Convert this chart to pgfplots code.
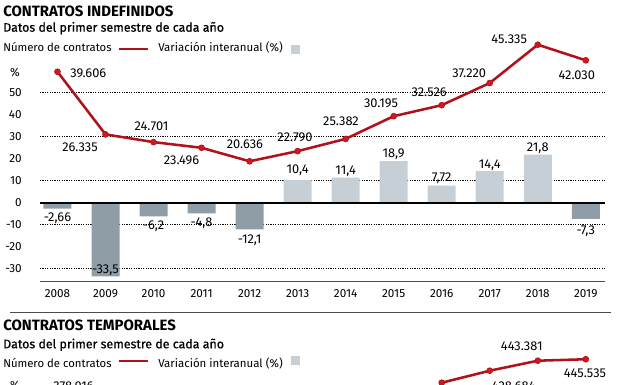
\documentclass[border=0pt]{standalone}
\usepackage{fontspec}
\setmainfont{Fira Sans}
\usepackage{pgfplots}
\usepackage{pgfplotstable}
\pgfplotsset{compat=1.18}
\definecolor{linered}{HTML}{B0121B}
\definecolor{markred}{HTML}{D3161F}
\definecolor{negbar}{HTML}{8F9DA7}
\definecolor{posbar}{HTML}{C7CFD6}
\newcommand\fs[1]{\fontsize{#1pt}{#1pt}\selectfont}

\pgfplotstableread{
x v
0 -2.66
1 -33.5
2 -6.2
3 -4.8
4 -12.1
11 -7.3
}\negdata
\pgfplotstableread{
x v
5 10.4
6 11.4
7 18.9
8 7.72
9 14.4
10 21.8
}\posdata
\pgfplotstableread{
x v
0 39606
1 26335
2 24701
3 23496
4 20636
5 22790
6 25382
7 30195
8 32526
9 37220
10 45335
11 42030
}\lineA
\pgfplotstableread{
x v
8 411000
9 428684
10 443381
11 445535
}\lineB

\begin{document}
\begin{tikzpicture}
\path[use as bounding box] (0,0) rectangle (468pt,-288.75pt);
\begin{scope}
\clip (0,0) rectangle (468pt,-288.75pt);

% ---------- bars axis (top chart)
\begin{axis}[
  at={(30pt,-210.75pt)}, anchor=south west,
  width=423.75pt, height=184.5pt, scale only axis,
  xmin=-0.364, xmax=11.40,
  ymin=-35.59, ymax=76.23,
  axis line style={draw=none},
  major tick length=0pt,
  clip=false,
  xtick={0,...,11},
  xticklabels={2008,2009,2010,2011,2012,2013,2014,2015,2016,2017,2018,2019},
  xticklabel style={font=\fs{8.8}, anchor=center, yshift=-9.75pt, inner sep=0pt},
  ytick={-30,-20,...,50},
  yticklabel={\pgfmathparse{int(\tick)}\pgfmathresult},
  yticklabel style={font=\fs{8.8}, anchor=east, inner sep=0pt, xshift=-13.5pt},
]
\draw[black, line width=0.5pt, dash pattern=on 0.9pt off 0.9pt] (axis cs:-0.364,50) -- (axis cs:11.4,50);
\draw[black, line width=0.5pt, dash pattern=on 0.9pt off 0.9pt] (axis cs:-0.364,30) -- (axis cs:11.4,30);
\draw[black, line width=0.5pt, dash pattern=on 0.9pt off 0.9pt] (axis cs:-0.364,10) -- (axis cs:11.4,10);
\draw[black, line width=0.5pt, dash pattern=on 0.9pt off 0.9pt] (axis cs:-0.364,-10) -- (axis cs:11.4,-10);
\draw[black, line width=0.5pt, dash pattern=on 0.9pt off 0.9pt] (axis cs:-0.364,-30) -- (axis cs:11.4,-30);
\addplot[ybar, bar width=21pt, bar shift=0pt, fill=negbar, draw=none] table[x=x,y=v] {\negdata};
\addplot[ybar, bar width=21pt, bar shift=0pt, fill=posbar, draw=none] table[x=x,y=v] {\posdata};
\draw[black, line width=1.6pt] (axis cs:-0.364,0) -- (axis cs:11.4,0);
\draw[black!70, line width=0.75pt] (axis cs:-0.364,-35.59) -- (axis cs:11.4,-35.59);
\begin{scope}[every node/.style={font=\fs{9.6}, inner sep=0pt}]
\node[yshift=-7.3pt] at (axis cs:0,-2.66) {-2,66};
\node[yshift=4.8pt] at (axis cs:1,-33.5) {-33,5};
\node[yshift=-7.3pt] at (axis cs:2,-6.2) {-6,2};
\node[yshift=-7.5pt] at (axis cs:3,-4.8) {-4,8};
\node[yshift=-8pt] at (axis cs:4,-12.1) {-12,1};
\node[yshift=-9.7pt] at (axis cs:11,-7.3) {-7,3};
\node[yshift=7.3pt] at (axis cs:5,10.4) {10,4};
\node[yshift=5pt] at (axis cs:6,11.4) {11,4};
\node[yshift=5.1pt] at (axis cs:7,18.9) {18,9};
\node[yshift=6pt] at (axis cs:8,7.72) {7,72};
\node[yshift=4.5pt] at (axis cs:9,14.4) {14,4};
\node[yshift=4.8pt] at (axis cs:10,21.8) {21,8};
\end{scope}
\end{axis}

% ---------- line axis (top chart)
\begin{axis}[
  at={(30pt,-210.75pt)}, anchor=south west,
  width=423.75pt, height=184.5pt, scale only axis,
  xmin=-0.364, xmax=11.40,
  ymin=-4725, ymax=47394,
  hide axis, clip=false,
]
\addplot[linered, line width=1.9pt, mark=*, mark size=2.2pt,
  mark options={fill=markred, draw=linered, line width=0.5pt}] table[x=x,y=v] {\lineA};
\begin{scope}[every node/.style={font=\fs{9.6}, inner sep=0pt}]
\node[xshift=23.1pt, yshift=-1pt] at (axis cs:0,39606) {39.606};
\node[xshift=-19.1pt, yshift=-9.75pt] at (axis cs:1,26335) {26.335};
\node[xshift=-1.5pt, yshift=11.7pt] at (axis cs:2,24701) {24.701};
\node[xshift=-15pt, yshift=-9.2pt] at (axis cs:3,23496) {23.496};
\node[xshift=-3.5pt, yshift=12.5pt] at (axis cs:4,20636) {20.636};
\node[xshift=-2pt, yshift=10pt] at (axis cs:5,22790) {22.790};
\node[xshift=-3.5pt, yshift=13.2pt] at (axis cs:6,25382) {25.382};
\node[xshift=-9.5pt, yshift=10pt] at (axis cs:7,30195) {30.195};
\node[xshift=-9.4pt, yshift=9.75pt] at (axis cs:8,32526) {32.526};
\node[xshift=-15.4pt, yshift=7.5pt] at (axis cs:9,37220) {37.220};
\node[xshift=-21.4pt, yshift=3.75pt] at (axis cs:10,45335) {45.335};
\node[xshift=-6.75pt, yshift=-11.25pt] at (axis cs:11,42030) {42.030};
\end{scope}
\end{axis}

% ---------- line axis (bottom chart, cut off)
\begin{axis}[
  at={(30pt,-300pt)}, anchor=south west,
  width=423.75pt, height=60pt, scale only axis,
  xmin=-0.364, xmax=11.40,
  ymin=385596, ymax=503243,
  hide axis, clip=false,
]
\addplot[linered, line width=1.9pt, mark=*, mark size=2.2pt,
  mark options={fill=markred, draw=linered, line width=0.5pt}] table[x=x,y=v] {\lineB};
\begin{scope}[every node/.style={font=\fs{9.6}, inner sep=0pt}]
\node[xshift=12pt, yshift=13.5pt] at (axis cs:0,378916) {378.916};
\node[xshift=18pt, yshift=-12pt] at (axis cs:9,428684) {428.684};
\node[xshift=-12pt, yshift=11pt] at (axis cs:10,443381) {443.381};
\node[xshift=-0.6pt, yshift=-10.6pt] at (axis cs:11,445535) {445.535};
\end{scope}
\end{axis}

% ---------- texts
\begin{scope}[x=0.75pt, y=-0.75pt]
\node[anchor=base west, inner sep=0pt, font=\bfseries\fs{11.2}] at (3,16.7) {CONTRATOS INDEFINIDOS};
\node[anchor=base west, inner sep=0pt, font=\fs{9.3}\addfontfeature{FakeBold=0.7}] at (3,31.7) {Datos del primer semestre de cada año};
\node[anchor=base west, inner sep=0pt, font=\fs{8.5}] at (3,51.7) {Número de contratos};
\draw[linered, line width=2.2pt] (119,49) -- (148,49);
\node[anchor=base west, inner sep=0pt, font=\fs{8.6}] at (158,51.7) {Variación interanual (\%)};
\fill[posbar] (291,45) rectangle (300,54);
\node[inner sep=0pt, font=\fs{8.8}] at (15,73) {\%};

\draw[black!70, line width=0.75pt] (10,312) -- (611,312);

\node[anchor=base west, inner sep=0pt, font=\bfseries\fs{11.2}] at (3,330.7) {CONTRATOS TEMPORALES};
\node[anchor=base west, inner sep=0pt, font=\fs{9.3}\addfontfeature{FakeBold=0.7}] at (3,348.3) {Datos del primer semestre de cada año};
\node[anchor=base west, inner sep=0pt, font=\fs{8.5}] at (3,367.7) {Número de contratos};
\draw[linered, line width=2.2pt] (119,361) -- (148,361);
\node[anchor=base west, inner sep=0pt, font=\fs{8.6}] at (158,367.7) {Variación interanual (\%)};
\fill[posbar] (291,356) rectangle (300,365);
\node[inner sep=0pt, font=\fs{8.8}] at (15,386) {\%};
\end{scope}
\end{scope}
\end{tikzpicture}
\end{document}
